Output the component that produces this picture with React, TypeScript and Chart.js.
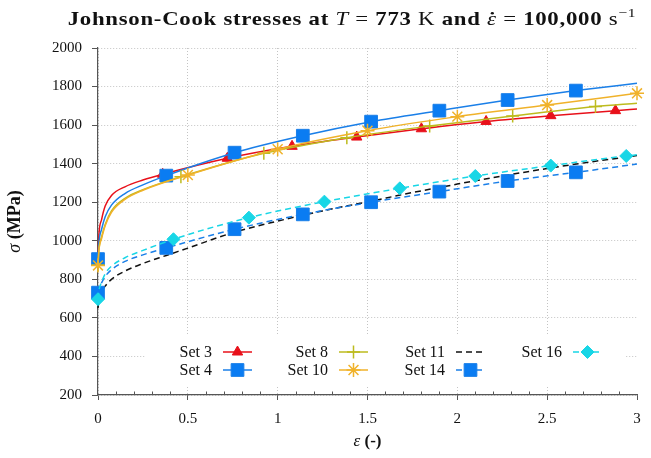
import React, { useEffect, useRef } from 'react';
import { Chart, registerables } from 'chart.js';
import { drawPoint } from 'chart.js/helpers';

Chart.register(...registerables);

const SERIF = '"Liberation Serif", "Times New Roman", serif';

// ---- axis ticks ----
const xTickValues = [0, 0.5, 1, 1.5, 2, 2.5, 3];
const xTickLabels = ['0', '0.5', '1', '1.5', '2', '2.5', '3'];
const yTickValues = [200, 400, 600, 800, 1000, 1200, 1400, 1600, 1800, 2000];
const yTickLabels = ['200', '400', '600', '800', '1000', '1200', '1400', '1600', '1800', '2000'];

// ---- series (strain ε, stress σ in MPa), marker strains ----
const set3Strain = [0, 0.005, 0.02, 0.04, 0.075, 0.15, 0.25, 0.36, 0.72, 1.08, 1.44, 1.8, 2.16, 2.52, 2.88, 3];
const set3Stress = [905, 1030, 1110, 1180, 1235, 1280, 1315, 1345, 1428, 1490, 1538, 1581, 1619, 1649, 1675, 1683];
const set3Marks = [0, 0.36, 0.72, 1.08, 1.44, 1.8, 2.16, 2.52, 2.88];

const set4Strain = [0, 0.005, 0.02, 0.04, 0.075, 0.15, 0.25, 0.38, 0.76, 1.14, 1.52, 1.9, 2.28, 2.66, 3];
const set4Stress = [905, 990, 1060, 1125, 1185, 1245, 1290, 1338, 1457, 1545, 1618, 1675, 1730, 1779, 1817];
const set4Marks = [0, 0.38, 0.76, 1.14, 1.52, 1.9, 2.28, 2.66];

const set8Strain = [0, 0.005, 0.02, 0.04, 0.075, 0.15, 0.25, 0.4615, 0.923, 1.385, 1.846, 2.308, 2.769, 3];
const set8Stress = [875, 955, 1020, 1085, 1155, 1220, 1265, 1332, 1454, 1535, 1595, 1647, 1696, 1713];
const set8Marks = [0, 0.4615, 0.923, 1.385, 1.846, 2.308, 2.769];

const set10Strain = [0, 0.005, 0.02, 0.04, 0.075, 0.15, 0.25, 0.5, 1, 1.5, 2, 2.5, 3];
const set10Stress = [872, 950, 1012, 1078, 1148, 1215, 1262, 1341, 1475, 1571, 1644, 1704, 1765];
const set10Marks = [0, 0.5, 1, 1.5, 2, 2.5, 3];

const set11Strain = [0, 0.005, 0.02, 0.04, 0.075, 0.15, 0.25, 0.38, 0.5, 0.75, 1, 1.25, 1.5, 1.75, 2, 2.25, 2.5, 2.75, 3];
const set11Stress = [650, 690, 735, 765, 800, 843, 882, 924, 962, 1042, 1102, 1155, 1202, 1250, 1294, 1336, 1375, 1410, 1442];
const set11Marks: number[] = [];

const set14Strain = [0, 0.005, 0.02, 0.04, 0.075, 0.15, 0.25, 0.38, 0.76, 1.14, 1.52, 1.9, 2.28, 2.66, 3];
const set14Stress = [731, 750, 782, 815, 850, 893, 927, 963, 1060, 1137, 1200, 1255, 1310, 1355, 1398];
const set14Marks = [0, 0.38, 0.76, 1.14, 1.52, 1.9, 2.28, 2.66];

const set16Strain = [0, 0.005, 0.02, 0.04, 0.075, 0.15, 0.25, 0.42, 0.84, 1.26, 1.68, 2.1, 2.52, 2.94, 3];
const set16Stress = [697, 740, 786, 829, 868, 912, 950, 1008, 1120, 1203, 1272, 1336, 1390, 1440, 1446];
const set16Marks = [0, 0.42, 0.84, 1.26, 1.68, 2.1, 2.52, 2.94];

const seriesLabels = ['Set 3', 'Set 4', 'Set 8', 'Set 10', 'Set 11', 'Set 14', 'Set 16'];

const BLUE = '#1a7fe8';
const series = [
  { label: seriesLabels[0], x: set3Strain, y: set3Stress, marks: set3Marks, color: '#e8101a', fill: '#e8101a', dash: [] as number[], style: 'triangle', radius: 6, pbw: 1 },
  { label: seriesLabels[1], x: set4Strain, y: set4Stress, marks: set4Marks, color: BLUE, fill: '#0a7cf2', dash: [] as number[], style: 'rect', radius: 9, pbw: 1 },
  { label: seriesLabels[2], x: set8Strain, y: set8Stress, marks: set8Marks, color: '#bdbb1e', fill: '#bdbb1e', dash: [] as number[], style: 'cross', radius: 6.5, pbw: 1.5 },
  { label: seriesLabels[3], x: set10Strain, y: set10Stress, marks: set10Marks, color: '#f0b22a', fill: '#f0b22a', dash: [] as number[], style: 'star', radius: 7, pbw: 1.5 },
  { label: seriesLabels[4], x: set11Strain, y: set11Stress, marks: set11Marks, color: '#111111', fill: '#111111', dash: [6, 4], style: 'circle', radius: 0, pbw: 1 },
  { label: seriesLabels[5], x: set14Strain, y: set14Stress, marks: set14Marks, color: BLUE, fill: '#0a7cf2', dash: [6, 4], style: 'rect', radius: 9, pbw: 1 },
  { label: seriesLabels[6], x: set16Strain, y: set16Stress, marks: set16Marks, color: '#18d6e6', fill: '#18d6e6', dash: [6, 4], style: 'rectRot', radius: 6.5, pbw: 1 },
];

const isMark = (marks: number[], x: number) => marks.some((m) => Math.abs(m - x) < 1e-6);

const titleParts = [
  { text: 'Johnson-Cook stresses at ', font: 'bold' },
  { text: 'T', font: 'italic' },
  { text: ' = ', font: 'normal' },
  { text: '773', font: 'bold' },
  { text: ' K ', font: 'normal' },
  { text: 'and ', font: 'bold' },
  { text: 'ε', font: 'italic', dot: true },
  { text: ' = ', font: 'normal' },
  { text: '100,000', font: 'bold' },
  { text: ' s', font: 'normal' },
  { text: '−1', font: 'normal', sup: true },
];
const yTitleParts = [
  { text: 'σ', font: 'italic' },
  { text: ' (MPa)', font: 'bold' },
];
const xTitleParts = [
  { text: 'ε', font: 'italic' },
  { text: ' (-)', font: 'bold' },
];

function drawParts(ctx: CanvasRenderingContext2D, parts: any[], cx: number, cy: number, size: number, sx = 1, spacing = 0) {
  const fontFor = (p: any) => `${p.font === 'normal' ? '' : p.font} ${p.sup ? Math.round(size * 0.7) : size}px ${SERIF}`;
  (ctx as any).letterSpacing = `${spacing}px`;
  let total = 0;
  const widths = parts.map((p) => {
    ctx.font = fontFor(p);
    const w = ctx.measureText(p.text).width;
    total += w;
    return w;
  });
  ctx.save();
  ctx.translate(cx, cy);
  ctx.scale(sx, 1);
  let x = -total / 2;
  ctx.textAlign = 'left';
  ctx.textBaseline = 'alphabetic';
  parts.forEach((p, i) => {
    ctx.font = fontFor(p);
    ctx.fillText(p.text, x, p.sup ? -size * 0.4 : 0);
    if (p.dot) {
      ctx.beginPath();
      ctx.arc(x + widths[i] * 0.55, -size * 0.62, size * 0.07, 0, Math.PI * 2);
      ctx.fill();
    }
    x += widths[i];
  });
  ctx.restore();
  (ctx as any).letterSpacing = '0px';
}

const decorPlugin = {
  id: 'decor',
  afterDraw(chart: any) {
    const { ctx, chartArea, scales } = chart;
    const xs = scales.x;
    ctx.save();
    ctx.fillStyle = '#111';
    // title
    drawParts(ctx, titleParts, 352, 25, 19, 1.2, 0.6);
    // x title
    drawParts(ctx, xTitleParts, (chartArea.left + chartArea.right) / 2, 446, 17);
    // y title
    ctx.save();
    ctx.translate(20, (chartArea.top + chartArea.bottom) / 2);
    ctx.rotate(-Math.PI / 2);
    drawParts(ctx, yTitleParts, 0, 0, 18);
    ctx.restore();

    // minor ticks on x axis
    ctx.strokeStyle = '#555';
    ctx.lineWidth = 1;
    for (let k = 1; k < 30; k++) {
      if (k % 5 === 0) continue;
      const px = Math.round(xs.getPixelForValue(k / 10)) + 0.5;
      ctx.beginPath();
      ctx.moveTo(px, chartArea.bottom);
      ctx.lineTo(px, chartArea.bottom - 3.5);
      ctx.stroke();
    }

    // legend
    ctx.fillStyle = '#ffffff';
    ctx.fillRect(145, 334, 480, 52);
    const colRight = [212, 328, 445, 562];
    const rowY = [352, 370];
    series.forEach((s, i) => {
      const col = Math.floor(i / 2);
      const row = i % 2;
      const tr = colRight[col];
      const y = rowY[row];
      ctx.fillStyle = '#111';
      ctx.font = `16px ${SERIF}`;
      ctx.textAlign = 'right';
      ctx.textBaseline = 'middle';
      ctx.fillText(s.label, tr, y + 1);
      const x1 = tr + 11;
      const x2 = tr + 40;
      ctx.strokeStyle = s.color;
      ctx.lineWidth = 1.5;
      ctx.setLineDash(s.dash);
      ctx.beginPath();
      ctx.moveTo(x1, y);
      ctx.lineTo(x2, y);
      ctx.stroke();
      ctx.setLineDash([]);
      if (s.radius > 0) {
        ctx.fillStyle = s.fill;
        ctx.strokeStyle = s.color;
        ctx.lineWidth = s.pbw;
        drawPoint(ctx, { pointStyle: s.style as any, rotation: 0, radius: s.radius, borderWidth: s.pbw }, (x1 + x2) / 2, y);
      }
    });
    ctx.restore();
  },
};

export default function App() {
  const ref = useRef<HTMLCanvasElement>(null);
  useEffect(() => {
    document.body.style.margin = '0';
    const findLabel = (vals: number[], labels: string[], v: number) => {
      const i = vals.findIndex((t) => Math.abs(t - v) < 1e-6);
      return i >= 0 ? labels[i] : '';
    };
    const chart = new Chart(ref.current as HTMLCanvasElement, {
      type: 'line',
      data: {
        datasets: series.map((s, i) => ({
          label: s.label,
          data: s.x.map((x, j) => ({ x, y: s.y[j] })),
          borderColor: s.color,
          backgroundColor: s.fill,
          borderWidth: 1.5,
          borderDash: s.dash,
          pointStyle: s.style as any,
          pointRadius: (c: any) => (c.raw && isMark(s.marks, c.raw.x) ? s.radius : 0),
          pointHoverRadius: 0,
          pointBorderWidth: s.pbw,
          pointBackgroundColor: s.fill,
          pointBorderColor: s.color,
          cubicInterpolationMode: 'monotone' as const,
          fill: false,
          clip: false as any,
          order: -i,
        })),
      },
      options: {
        animation: false,
        responsive: false,
        devicePixelRatio: 1,
        events: [],
        layout: { padding: { top: 48, right: 14, bottom: 0, left: 0 } },
        plugins: { legend: { display: false }, tooltip: { enabled: false }, title: { display: false } },
        scales: {
          x: {
            type: 'linear',
            min: 0,
            max: 3,
            afterFit: (sc: any) => { sc.height = 63; },
            afterBuildTicks: (sc: any) => { sc.ticks = xTickValues.map((v) => ({ value: v })); },
            ticks: {
              callback: (v: any) => findLabel(xTickValues, xTickLabels, Number(v)),
              font: { family: SERIF, size: 15 },
              color: '#111',
              padding: 10,
              maxRotation: 0,
            },
            grid: {
              color: (c: any) => (c.tick && Math.abs(c.tick.value - 3) < 1e-6 ? 'rgba(0,0,0,0)' : '#c4c4c4'),
              lineWidth: 1,
              drawTicks: true,
              tickLength: 5,
              tickColor: '#555',
              tickWidth: 1,
            },
            border: { display: true, color: '#555', width: 1.2, dash: [1, 2] },
          },
          y: {
            type: 'linear',
            min: 200,
            max: 2000,
            afterFit: (sc: any) => { sc.width = 98; },
            afterBuildTicks: (sc: any) => { sc.ticks = yTickValues.map((v) => ({ value: v })); },
            ticks: {
              callback: (v: any) => findLabel(yTickValues, yTickLabels, Number(v)),
              font: { family: SERIF, size: 15 },
              color: '#111',
              padding: 10,
            },
            grid: {
              color: '#c4c4c4',
              lineWidth: 1,
              drawTicks: true,
              tickLength: 6,
              tickColor: '#555',
              tickWidth: 1,
            },
            border: { display: true, color: '#555', width: 1.2, dash: [1, 2] },
          },
        },
      },
      plugins: [decorPlugin],
    } as any);
    return () => chart.destroy();
  }, []);
  return (
    <div style={{ width: 651, height: 458 }}>
      <canvas ref={ref} width={651} height={458} style={{ display: 'block', width: 651, height: 458 }} />
    </div>
  );
}
